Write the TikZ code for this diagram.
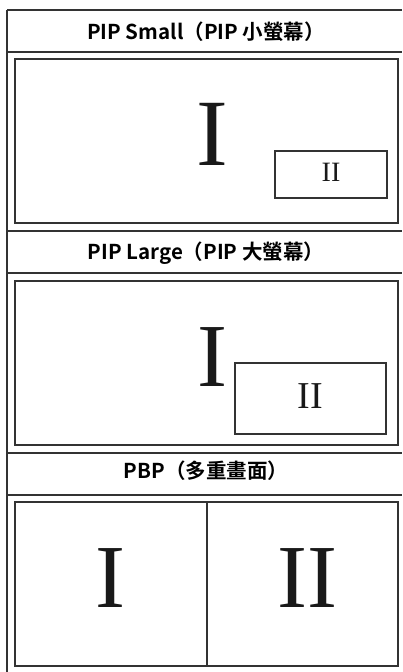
\documentclass[tikz,border=0pt]{standalone}
\usepackage{fontspec}
\setmainfont{Liberation Serif}
\newfontfamily\cjkfont{Noto Sans CJK TC}[BoldFont={Noto Sans CJK TC Bold}]
\begin{document}
\begin{tikzpicture}[x=1pt,y=-1pt,
  frameline/.style={draw=black!80, line width=1.6pt},
  boxline/.style={draw=black!80, line width=1.3pt},
  title/.style={anchor=base, inner sep=0pt, font=\cjkfont\bfseries\fontsize{20.5}{22}\selectfont, text=black},
  numeral/.style={anchor=base, inner sep=0pt, text=black!90},
]
\useasboundingbox (0,0) rectangle (402,672);
% outer grid lines
\coordinate (tl) at (7,10);
\coordinate (bl) at (7,672);
\draw[frameline] (tl) -- (bl);
\foreach \yy/\nm in {10/a,52/b,231/c,273/d,453/e,495/f}{
  \draw[frameline] (7,\yy) -- (402,\yy);
}
% titles
\node[title] (t1) at (206,39) {PIP Small（PIP 小螢幕）};
\node[title] (t2) at (206,259.5) {PIP Large（PIP 大螢幕）};
\node[title] (t3) at (206,478) {PBP（多重畫面）};
% panel 1
\draw[boxline] (15,59) rectangle (398,223);
\node[numeral, font=\fontsize{95}{95}\selectfont] (p1i) at (212,165) {I};
\draw[boxline, line width=1.1pt] (275,151) rectangle (387,198);
\node[numeral, font=\fontsize{28}{28}\selectfont] (p1ii) at (331,181.5) {II};
% panel 2
\draw[boxline] (15,281) rectangle (398,445);
\node[numeral, font=\fontsize{90}{90}\selectfont] (p2i) at (212,386) {I};
\draw[boxline] (235,363) rectangle (386,434);
\node[numeral, font=\fontsize{38}{38}\selectfont] (p2ii) at (310.5,408) {II};
% panel 3
\draw[boxline] (15,502) rectangle (398,666);
\draw[draw=black!80, line width=1.1pt] (207,502) -- (207,666);
\node[numeral, font=\fontsize{90}{90}\selectfont] (p3i) at (110,607) {I};
\node[numeral, font=\fontsize{90}{90}\selectfont] (p3ii) at (307,607) {II};
\end{tikzpicture}
\end{document}
